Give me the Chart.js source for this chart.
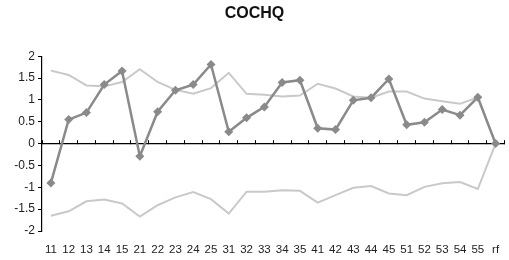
<!DOCTYPE html>
<html lang="en">
<head>
  <meta charset="UTF-8">
  <title>COCHQ</title>
  <style>
    html, body { margin: 0; padding: 0; background: #fff; }
    .chart-container { position: relative; width: 509px; height: 260px; }
  </style>
</head>
<body>
  <div class="chart-container">
    <canvas id="cochq"></canvas>
  </div>

  <script src="https://cdn.jsdelivr.net/npm/chart.js"></script>
  <script>
    const categories = ['11', '12', '13', '14', '15', '21', '22', '23', '24', '25',
      '31', '32', '33', '34', '35', '41', '42', '43', '44', '45',
      '51', '52', '53', '54', '55', 'rf'];

    const cochqValues = [-0.90, 0.55, 0.71, 1.35, 1.66, -0.29, 0.73, 1.22, 1.35, 1.81,
      0.27, 0.59, 0.84, 1.40, 1.45, 0.35, 0.32, 0.99, 1.05, 1.48,
      0.43, 0.49, 0.78, 0.65, 1.06, 0];

    const upperBand = [1.67, 1.57, 1.33, 1.31, 1.41, 1.70, 1.41, 1.23, 1.14, 1.27,
      1.62, 1.14, 1.12, 1.08, 1.10, 1.37, 1.26, 1.08, 1.05, 1.19,
      1.19, 1.03, 0.97, 0.91, 1.06, 0];

    const lowerBand = [-1.65, -1.55, -1.32, -1.28, -1.37, -1.67, -1.41, -1.23, -1.11, -1.27,
      -1.60, -1.10, -1.10, -1.07, -1.08, -1.35, -1.18, -1.01, -0.97, -1.14,
      -1.18, -0.99, -0.91, -0.88, -1.04, 0];

    const yTicks = [-2, -1.5, -1, -0.5, 0, 0.5, 1, 1.5, 2];

    const darkGray = '#8a8a8a';
    const lightGray = '#c9c9c9';
    const font = "'Liberation Sans', Arial, sans-serif";

    const bandStyle = {
      borderColor: lightGray,
      borderWidth: 2,
      pointRadius: 0,
      fill: false,
      tension: 0
    };

    const ctx = document.getElementById('cochq').getContext('2d');
    const chart = new Chart(ctx, {
      type: 'line',
      data: {
        labels: categories,
        datasets: [
          {
            label: 'COCHQ',
            data: cochqValues,
            borderColor: darkGray,
            backgroundColor: darkGray,
            borderWidth: 2.5,
            pointStyle: 'rectRot',
            pointRadius: 4.5,
            pointBorderWidth: 0,
            pointBackgroundColor: darkGray,
            tension: 0
          },
          Object.assign({ label: 'upper', data: upperBand }, bandStyle),
          Object.assign({ label: 'lower', data: lowerBand }, bandStyle)
        ]
      },
      options: {
        responsive: true,
        maintainAspectRatio: false,
        animation: false,
        layout: { padding: 0 },
        plugins: {
          legend: { display: false },
          tooltip: { enabled: false },
          title: {
            display: true,
            text: 'COCHQ',
            color: '#111',
            font: { family: font, size: 16, weight: 'bold' },
            padding: { top: 4, bottom: 33 }
          }
        },
        scales: {
          x: {
            offset: true,
            border: { display: false },
            // hidden tick marks still push the labels down, without adding side padding
            grid: { display: false, drawTicks: true, tickLength: 9 },
            ticks: {
              color: '#222',
              font: { family: font, size: 11.5 },
              padding: 3,
              autoSkip: false,
              maxRotation: 0
            },
            afterFit: (scale) => { scale.height = 29; }
          },
          zeroLine: {
            type: 'category',
            axis: 'x',
            labels: categories,
            offset: true,
            position: { y: 0 },
            border: { display: true, color: '#000', width: 1.2 },
            grid: { drawOnChartArea: false, offset: true, drawTicks: true, tickLength: -4, color: '#000', lineWidth: 1 },
            ticks: { display: false, padding: 0 },
            afterFit: (scale) => { scale.height = 0; }
          },
          y: {
            min: -2,
            max: 2,
            afterBuildTicks: (scale) => { scale.ticks = yTicks.map(v => ({ value: v })); },
            border: { display: true, color: '#000', width: 1.2 },
            grid: { drawOnChartArea: false, drawTicks: true, tickLength: 4, color: '#000' },
            ticks: {
              color: '#222',
              font: { family: font, size: 12 },
              padding: 3,
              callback: (value) => String(value)
            },
            afterFit: (scale) => { scale.width = 42; }
          }
        }
      }
    });
  </script>
</body>
</html>
